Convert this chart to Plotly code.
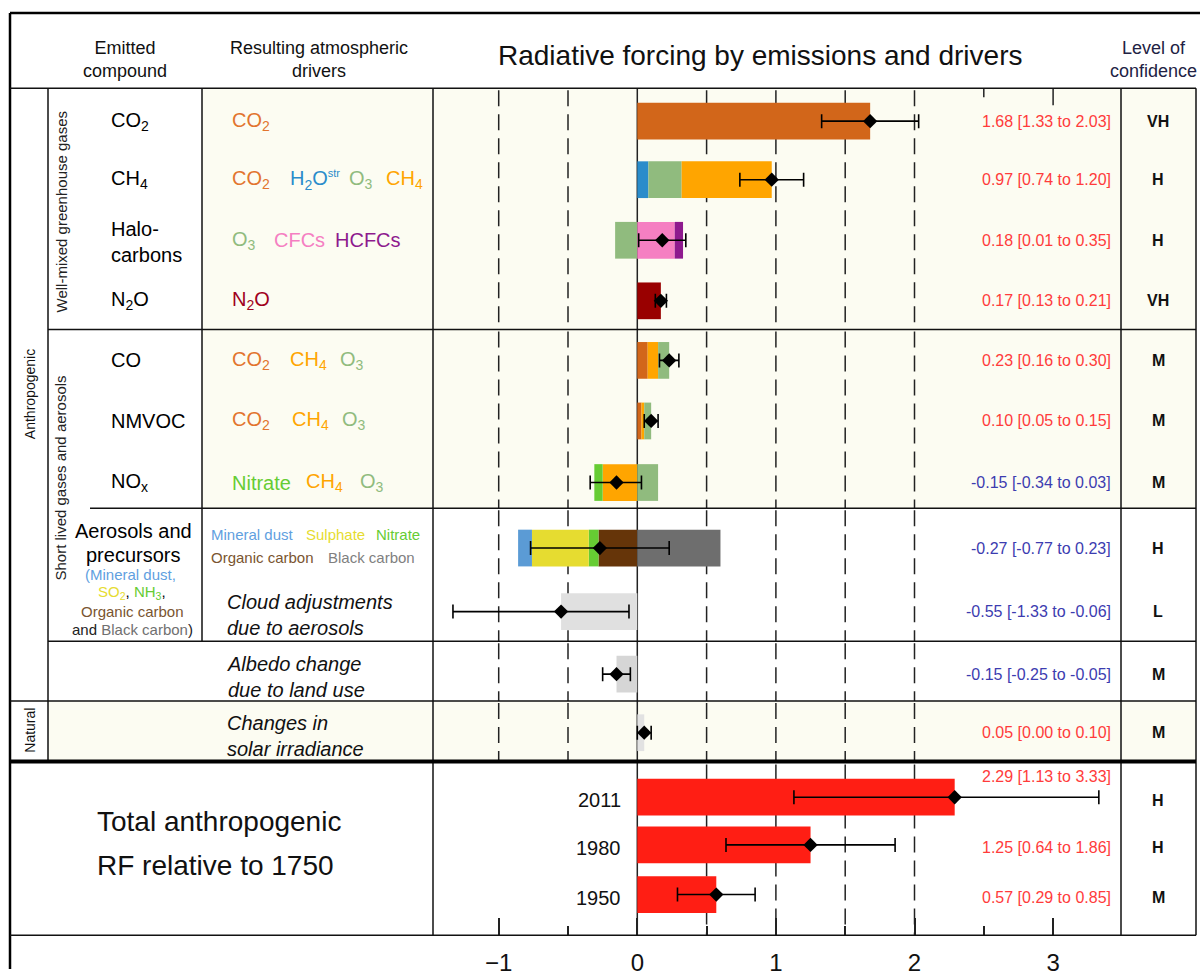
import plotly.graph_objects as go

W, H = 1200, 976

# ---------------- data ----------------
rows = ["CO2", "CH4", "Halocarbons", "N2O", "CO", "NMVOC", "NOx",
        "Aerosols", "Cloud", "Albedo", "Solar"]
best = [1.68, 0.97, 0.18, 0.17, 0.23, 0.10, -0.15, -0.27, -0.55, -0.15, 0.05]
low = [1.33, 0.74, 0.01, 0.13, 0.16, 0.05, -0.34, -0.77, -1.33, -0.25, 0.00]
high = [2.03, 1.20, 0.35, 0.21, 0.30, 0.15, 0.03, 0.23, -0.06, -0.05, 0.10]
confidence = ["VH", "H", "H", "VH", "M", "M", "M", "H", "L", "M", "M"]

# contributions per row, stacked outward from zero in listed order (per sign)
comp_row = ["CO2",
            "CH4", "CH4", "CH4",
            "Halocarbons", "Halocarbons", "Halocarbons",
            "N2O",
            "CO", "CO", "CO",
            "NMVOC", "NMVOC", "NMVOC",
            "NOx", "NOx", "NOx",
            "Aerosols", "Aerosols", "Aerosols", "Aerosols", "Aerosols",
            "Cloud", "Albedo", "Solar"]
comp_driver = ["CO2",
               "H2Ostr", "O3", "CH4",
               "O3", "CFCs", "HCFCs",
               "N2O",
               "CO2", "CH4", "O3",
               "CO2", "CH4", "O3",
               "CH4", "Nitrate", "O3",
               "Organic carbon", "Nitrate", "Sulphate", "Mineral dust", "Black carbon",
               "Cloud", "Albedo", "Solar"]
comp_value = [1.68,
              0.08, 0.24, 0.65,
              -0.16, 0.27, 0.06,
              0.17,
              0.075, 0.075, 0.08,
              0.03, 0.02, 0.05,
              -0.25, -0.06, 0.15,
              -0.28, -0.07, -0.41, -0.10, 0.60,
              -0.55, -0.15, 0.05]

years = ["2011", "1980", "1950"]
tot_best = [2.29, 1.25, 0.57]
tot_low = [1.13, 0.64, 0.29]
tot_high = [3.33, 1.86, 0.85]
tot_conf = ["H", "H", "M"]

xtick_vals = [-1, 0, 1, 2, 3]
xtick_text = ["\u22121", "0", "1", "2", "3"]
minor_ticks = [-0.5, 0.5, 1.5, 2.5]

# ---------------- layout / style ----------------
FONT = "Liberation Sans, Arial, sans-serif"
row_y = [122, 181, 242, 303, 363, 424, 486, 552, 616, 679, 738]
tot_y = [803, 851, 901]
tot_label_y = [782, 854, 904]
BAR_W = 37
X0_PX, PX_PER_UNIT = 637.3, 138.6
PLOT_L, PLOT_R = 433, 1121
CREAM = "#FCFCF2"

colors = {
    "CO2": "#D2661A", "H2Ostr": "#2A8CCB", "O3": "#90BB7E", "CH4": "#FFA500",
    "CFCs": "#F57FC2", "HCFCs": "#8E1A8E", "N2O": "#990000",
    "Mineral dust": "#5B9BD5", "Sulphate": "#E6DC30", "Nitrate": "#66CC33",
    "Organic carbon": "#663509", "Black carbon": "#6E6E6E",
    "Cloud": "#E0E0E0", "Albedo": "#D6D6D6", "Solar": "#E2E2E2",
    "Total": "#FF1E14",
}
text_colors = dict(colors)
text_colors["CO2"] = "#E2742E"
text_colors["Organic carbon"] = "#7A5530"
text_colors["Black carbon"] = "#808080"
text_colors["Mineral dust"] = "#5FA0E0"
text_colors["N2O"] = "#A00020"

driver_text = {"CO2": "CO<sub>2</sub>",
               "H2Ostr": "H<sub>2</sub>O<sup><span style='font-size:11px'>str</span></sup>",
               "O3": "O<sub>3</sub>", "CH4": "CH<sub>4</sub>", "CFCs": "CFCs",
               "HCFCs": "HCFCs", "N2O": "N<sub>2</sub>O", "Nitrate": "Nitrate",
               "Mineral dust": "Mineral dust", "Sulphate": "Sulphate",
               "Organic carbon": "Organic carbon", "Black carbon": "Black carbon"}

driver_labels = [  # (row index, driver, x px, y px, size)
    (0, "CO2", 233, None, 20),
    (1, "CO2", 233, None, 20), (1, "H2Ostr", 291, None, 20), (1, "O3", 350, None, 20), (1, "CH4", 387, None, 20),
    (2, "O3", 233, None, 20), (2, "CFCs", 275, None, 20), (2, "HCFCs", 336, None, 20),
    (3, "N2O", 233, None, 20),
    (4, "CO2", 233, None, 20), (4, "CH4", 291, None, 20), (4, "O3", 341, None, 20),
    (5, "CO2", 233, None, 20), (5, "CH4", 293, None, 20), (5, "O3", 343, None, 20),
    (6, "Nitrate", 233, None, 20), (6, "CH4", 307, None, 20), (6, "O3", 361, None, 20),
    (7, "Mineral dust", 212, 537, 15), (7, "Sulphate", 307, 537, 15), (7, "Nitrate", 377, 537, 15),
    (7, "Organic carbon", 212, 561, 15), (7, "Black carbon", 329, 561, 15),
]

compound_labels = ["CO<sub>2</sub>", "CH<sub>4</sub>", "Halo-<br>carbons", "N<sub>2</sub>O",
                   "CO", "NMVOC", "NO<sub>x</sub>"]
italic_labels = {8: "Cloud adjustments<br>due to aerosols",
                 9: "Albedo change<br>due to land use",
                 10: "Changes in<br>solar irradiance"}


def px2x(v):
    return v / W


def px2y(v):
    return 1 - v / H


fig = go.Figure()

# stacked component bars
pos_acc, neg_acc = {}, {}
for r, d, v in zip(comp_row, comp_driver, comp_value):
    i = rows.index(r)
    if v >= 0:
        base = pos_acc.get(r, 0.0)
        pos_acc[r] = base + v
    else:
        base = neg_acc.get(r, 0.0)
        neg_acc[r] = base + v
    fig.add_trace(go.Bar(x=[v], y=[row_y[i]], base=[base], orientation="h", width=BAR_W,
                         marker=dict(color=colors[d], line=dict(width=0)),
                         name=f"{r} – {d}", showlegend=False))

# totals
fig.add_trace(go.Bar(x=tot_best, y=tot_y, orientation="h", width=BAR_W,
                     marker=dict(color=colors["Total"], line=dict(width=0)),
                     showlegend=False, name="Total"))

# best estimates and uncertainty ranges
all_best = best + tot_best
all_low = low + tot_low
all_high = high + tot_high
fig.add_trace(go.Scatter(
    x=all_best, y=row_y + tot_y, mode="markers",
    marker=dict(symbol="diamond", size=11, color="black"),
    error_x=dict(type="data", symmetric=False,
                 array=[h - b for h, b in zip(all_high, all_best)],
                 arrayminus=[b - l for b, l in zip(all_best, all_low)],
                 color="black", thickness=1.6, width=7),
    showlegend=False))

shapes = []


def hline(y, x0, x1, w=1.5, color="#111"):
    shapes.append(dict(type="line", xref="paper", yref="paper", x0=px2x(x0), x1=px2x(x1),
                       y0=px2y(y), y1=px2y(y), line=dict(color=color, width=w), layer="above"))


def vline(x, y0, y1, w=1.5, color="#111"):
    shapes.append(dict(type="line", xref="paper", yref="paper", x0=px2x(x), x1=px2x(x),
                       y0=px2y(y0), y1=px2y(y1), line=dict(color=color, width=w), layer="above"))


def rect(x0, x1, y0, y1, fill):
    shapes.append(dict(type="rect", xref="paper", yref="paper", x0=px2x(x0), x1=px2x(x1),
                       y0=px2y(y1), y1=px2y(y0), fillcolor=fill, line=dict(width=0), layer="below"))


# cream row backgrounds
rect(202, 1196, 89, 332, CREAM)
rect(202, 1196, 332, 512, CREAM)
rect(48, 1196, 706, 766, CREAM)

# dashed reference lines per panel
sections = [(89, 332), (332, 512), (512, 646), (646, 706), (706, 766)]
for (ys, ye) in sections:
    for v in [-1, -0.5, 0.5, 1, 1.5, 2]:
        shapes.append(dict(type="line", xref="x", yref="y", x0=v, x1=v, y0=ys + 2, y1=ye,
                           line=dict(color="#222", width=1.5, dash="16px,8px"), layer="below"))
for v in [0.5, 1, 1.5, 2]:
    shapes.append(dict(type="line", xref="x", yref="y", x0=v, x1=v, y0=770, y1=942,
                       line=dict(color="#222", width=1.5, dash="16px,8px"), layer="below"))
# zero line
shapes.append(dict(type="line", xref="x", yref="y", x0=0, x1=0, y0=89, y1=942,
                   line=dict(color="#222", width=1.5), layer="below"))
# top ticks of first panel beyond the dashed region
for v in xtick_vals + minor_ticks:
    if v > 2:
        ln = 17 if v in xtick_vals else 9
        shapes.append(dict(type="line", xref="x", yref="y", x0=v, x1=v, y0=89, y1=89 + ln,
                           line=dict(color="#222", width=1.5), layer="above"))

# table lines
hline(13, 10, 1200, 2.5, "black")
vline(10, 13, 976, 2.5, "black")
hline(89, 10, 1196)
vline(48, 89, 766)
vline(202, 89, 646)
vline(PLOT_L, 89, 942)
vline(PLOT_R, 89, 942)
vline(1196, 89, 942)
hline(332, 48, 1196)
hline(512, 90, 1196)
hline(646, 48, 1196)
hline(706, 10, 1196)
hline(767, 10, 1196, 4, "black")
hline(942, 10, 1196)

ann = []


def text(t, x, y, size, color="black", xanchor="left", angle=0, yanchor="middle"):
    ann.append(dict(text=t, x=px2x(x), y=px2y(y), xref="paper", yref="paper",
                    xanchor=xanchor, yanchor=yanchor, showarrow=False, textangle=angle,
                    borderpad=0, borderwidth=0,
                    font=dict(family=FONT, size=size, color=color),
                    align=xanchor if xanchor != "center" else "center"))


# header
text("Emitted<br>compound", 125, 60, 18, "#111", "center")
text("Resulting atmospheric<br>drivers", 319, 60, 18, "#111", "center")
text("Radiative forcing by emissions and drivers", 760, 56, 28, "#111", "center")
text("Level of<br>confidence", 1153, 60, 18, "#222244", "center")

# side group labels
text("Anthropogenic", 30, 397, 14, "#111", "center", -90)
text("Natural", 30, 736, 14, "#111", "center", -90)
text("Well-mixed greenhouse gases", 61, 213, 15, "#222", "center", -90)
text("Short lived gases and aerosols", 61, 482, 15, "#222", "center", -90)

# compounds
for i, lab in enumerate(compound_labels):
    text(lab, 111, row_y[i] + (0 if i != 2 else 2), 20)
text("Aerosols and", 133, 535, 20, "black", "center")
text("precursors", 133, 559, 20, "black", "center")
text("<span style='color:%s'>(Mineral dust,</span>" % text_colors["Mineral dust"], 130, 579, 15, "black", "center")
text("<span style='color:%s'>SO<sub>2</sub></span>, <span style='color:%s'>NH<sub>3</sub></span>,"
     % (colors["Sulphate"], colors["Nitrate"]), 132, 597, 15, "black", "center")
text("<span style='color:%s'>Organic carbon</span>" % text_colors["Organic carbon"], 132, 616, 15, "black", "center")
text("and <span style='color:#707070'>Black carbon</span>)", 132, 634, 15, "#222", "center")

# drivers
for (i, d, x, y, s) in driver_labels:
    text(driver_text[d], x - 1, y + 1 if y is not None else row_y[i], s, text_colors[d])
for i, t in italic_labels.items():
    text("<i>%s</i>" % t, 227, row_y[i] + 3, 20, "#111")

# values + confidence
for i in range(len(rows)):
    c = "#FF3B3B" if best[i] > 0 else "#3C3CB0"
    text("%.2f [%.2f to %.2f]" % (best[i], low[i], high[i]), 1111, row_y[i], 16, c, "right")
    text("<b>%s</b>" % confidence[i], 1158, row_y[i], 16, "#111", "center")

# totals
text("Total anthropogenic", 97, 827, 28, "#111")
text("RF relative to 1750", 97, 872, 28, "#111")
for k in range(len(years)):
    text(years[k], 621, tot_y[k] + 3, 20, "#111", "right")
    text("%.2f [%.2f to %.2f]" % (tot_best[k], tot_low[k], tot_high[k]), 1111, tot_label_y[k], 16,
         "#FF3B3B", "right")
    text("<b>%s</b>" % tot_conf[k], 1158, tot_y[k] + 3, 16, "#111", "center")

xr0 = (PLOT_L - X0_PX) / PX_PER_UNIT
xr1 = (PLOT_R - X0_PX) / PX_PER_UNIT

fig.update_layout(
    width=W, height=H, margin=dict(l=0, r=0, t=0, b=0, pad=0),
    paper_bgcolor="white", plot_bgcolor="rgba(0,0,0,0)",
    barmode="overlay", showlegend=False,
    font=dict(family=FONT, color="#111"),
    shapes=shapes, annotations=ann,
    xaxis=dict(domain=[PLOT_L / W, PLOT_R / W], range=[xr0, xr1], showgrid=False, zeroline=False,
               showline=False, tickmode="array", tickvals=xtick_vals, ticktext=xtick_text,
               ticks="inside", ticklen=17, tickwidth=1.5, tickcolor="#222",
               tickfont=dict(family=FONT, size=24, color="#111"), ticklabelstandoff=11,
               minor=dict(ticks="inside", ticklen=9, tickwidth=1.5, tickcolor="#222",
                          tickvals=minor_ticks, showgrid=False),
               fixedrange=True),
    yaxis=dict(domain=[(H - 942) / H, 1], range=[942, 0], visible=False, fixedrange=True),
)

fig.write_html("out.html", config={"displayModeBar": False},
               post_script="document.body.style.margin='0';document.body.style.overflow='hidden';")
